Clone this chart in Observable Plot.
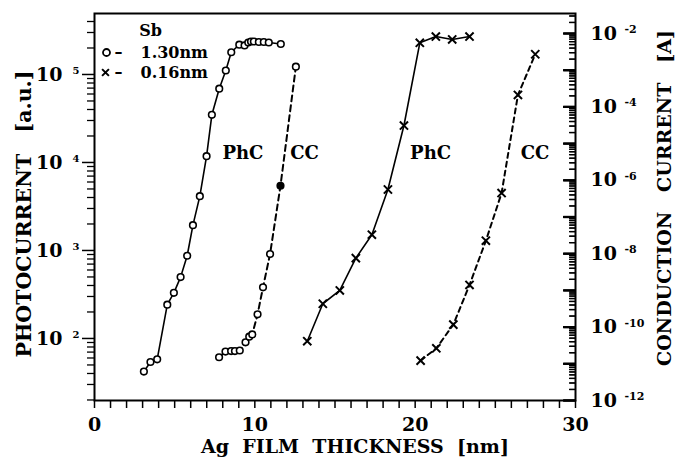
<!DOCTYPE html>
<html><head><meta charset="utf-8">
<script src="https://cdn.jsdelivr.net/npm/d3@7"></script>
<script src="https://cdn.jsdelivr.net/npm/@observablehq/plot@0.6"></script>
<style>
body{margin:0;background:#fff;}
svg text{white-space:pre;}
</style></head><body><div id="chart"></div>
<script>
// ---- data ----
// Photocurrent, Sb 1.30 nm (open circles, solid) – left axis [a.u.]
const phc130X = [3.08, 3.49, 3.91, 4.54, 4.95, 5.37, 5.78, 6.14, 6.57, 6.99, 7.32, 7.78, 8.19, 8.53, 9.03, 9.36, 9.59, 9.76, 9.94, 10.25, 10.56, 10.87, 11.62];
const phc130Y = [42, 54, 58, 242, 330, 498, 871, 1940, 4140, 11800, 34800, 68900, 111000, 179000, 218000, 214000, 231000, 237000, 237000, 234000, 234000, 231000, 222000];
// Conduction current, Sb 1.30 nm (circles, dashed) – right axis [A]
const cc130X = [7.77, 8.17, 8.52, 8.76, 9.06, 9.42, 9.65, 9.84, 10.17, 10.51, 10.95, 11.60, 12.56];
const cc130Y = [1.51e-11, 2.15e-11, 2.22e-11, 2.22e-11, 2.30e-11, 3.85e-11, 5.5e-11, 6.3e-11, 2.23e-10, 1.21e-9, 9.8e-9, 7.1e-7, 1.25e-3];
const cc130Filled = [false, false, false, false, false, false, false, false, false, false, false, true, false];
// Photocurrent, Sb 0.16 nm (crosses, solid) – left axis
const phc016X = [13.27, 14.24, 15.30, 16.30, 17.30, 18.30, 19.30, 20.29, 21.29, 22.31, 23.39];
const phc016Y = [93, 248, 351, 818, 1510, 4930, 26300, 229000, 270000, 250000, 270000];
// Conduction current, Sb 0.16 nm (crosses, dashed) – right axis
const cc016X = [20.34, 21.32, 22.38, 23.39, 24.41, 25.39, 26.41, 27.49];
const cc016Y = [1.22e-11, 2.65e-11, 1.17e-10, 1.41e-9, 2.26e-8, 4.49e-7, 2.12e-4, 2.72e-3];

// curve annotations
const annoText = ["PhC", "CC", "PhC", "CC"];
const annoX = [9.26, 13.1, 20.96, 27.48];
const annoY = [12600, 12600, 12900, 12900];

// axes
const xTicks = d3.range(0, 31, 1);
const xLabels = [0, 10, 20, 30];
const leftDecades = [100, 1000, 1e4, 1e5];
const rightDecadeExps = [-12, -11, -10, -9, -8, -7, -6, -5, -4, -3, -2];
const rightLabelExps = [-12, -10, -8, -6, -4, -2];
const legendTitle = "Sb";
const legendLabels = ["1.30nm", "0.16nm"];
const xTitle = "Ag  FILM  THICKNESS  [nm]";
const yLeftTitle = "PHOTOCURRENT   [a.u.]";
const yRightTitle = "CONDUCTION   CURRENT   [A]";

// ---- layout ----
const W = 676, H = 457, mT = 13, mB = 57, mL = 94, mR = 101;
const X0 = 0, X1 = 30;
const pxPerX = (W - mL - mR) / (X1 - X0);

// ---- scales ----
const L0 = 1.295, L1 = 5.693;   // left axis log10 domain
const R0 = -12, R1 = -1.455;    // right axis log10 domain
const k = (L1 - L0) / (R1 - R0);
const toLeft = v => 10 ** (L0 + (Math.log10(v) - R0) * k);

const zip = (xs, ys, f = v => v) => xs.map((x, i) => ({x, y: f(ys[i])}));
const phc130 = zip(phc130X, phc130Y);
const cc130 = zip(cc130X, cc130Y, toLeft).map((d, i) => ({...d, filled: cc130Filled[i]}));
const phc016 = zip(phc016X, phc016Y);
const cc016 = zip(cc016X, cc016Y, toLeft);
const anno = annoText.map((t, i) => ({t, x: annoX[i], y: annoY[i]}));

const leftMinor = [];
for (let e = 1; e <= 5; e++) for (let m = 2; m <= 9; m++) {
  const v = m * 10 ** e; if (v > 10 ** L0 && v < 10 ** L1) leftMinor.push(v);
}
const rightMinor = [];
for (let e = -12; e <= -2; e++) for (let m = 2; m <= 9; m++) {
  const v = m * 10 ** e; if (Math.log10(v) < R1) rightMinor.push(toLeft(v));
}
const rightMajor = rightDecadeExps.map(e => toLeft(10 ** e));
const rightLabels = rightLabelExps.map(e => ({y: toLeft(10 ** e), e: String(e)}));
const rightMajorTicks = rightMajor.map(y => ({y}));
const rightMinorTicks = rightMinor.map(y => ({y}));

const F = "DejaVu Serif";
const empty = () => "";

const chart = Plot.plot({
  width: W, height: H,
  marginTop: mT, marginBottom: mB, marginLeft: mL, marginRight: mR,
  style: {fontFamily: F, fontWeight: "bold", background: "#fff", color: "#000", overflow: "visible"},
  x: {domain: [X0, X1], axis: null, label: null},
  y: {type: "log", domain: [10 ** L0, 10 ** L1], axis: null, label: null},
  marks: [
    Plot.frame({stroke: "black", fill: "none", strokeWidth: 2}),
    // bottom ticks + labels
    Plot.axisX({anchor: "bottom", ticks: xTicks, tickSize: 8, tickFormat: empty, label: null, strokeWidth: 1.5}),
    Plot.axisX({anchor: "bottom", ticks: xLabels, tickSize: 0, tickPadding: 17, tickFormat: d => String(d), fontSize: 19, fontWeight: "bold", label: null}),
    // left ticks + labels
    Plot.axisY({anchor: "left", ticks: leftDecades, tickSize: 12, tickFormat: empty, label: null, strokeWidth: 1.5}),
    Plot.axisY({anchor: "left", ticks: leftMinor, tickSize: 7, tickFormat: empty, label: null, strokeWidth: 1.3}),
    Plot.axisY({anchor: "left", ticks: leftDecades, tickSize: 0, tickPadding: 32, tickFormat: () => "10", fontSize: 19, fontWeight: "bold", label: null}),
    Plot.axisY({anchor: "left", ticks: leftDecades, tickSize: 0, tickPadding: 15, tickFormat: d => String(Math.round(Math.log10(d))), fontSize: 10, fontWeight: "bold", dy: -4, label: null}),
    // right labels
    Plot.text(rightLabels, {y: "y", text: () => "10", frameAnchor: "right", dx: 15, textAnchor: "start", lineAnchor: "middle", fontSize: 19, fontWeight: "bold"}),
    Plot.text(rightLabels, {y: "y", text: "e", frameAnchor: "right", dx: 49, dy: -4, textAnchor: "start", lineAnchor: "middle", fontSize: 11, fontWeight: "bold"}),
    // curves
    Plot.line(phc130, {x: "x", y: "y", stroke: "black", strokeWidth: 1.6}),
    Plot.line(cc130, {x: "x", y: "y", stroke: "black", strokeWidth: 2, strokeDasharray: "6,4"}),
    Plot.line(phc016, {x: "x", y: "y", stroke: "black", strokeWidth: 1.6}),
    Plot.line(cc016, {x: "x", y: "y", stroke: "black", strokeWidth: 2, strokeDasharray: "5,4"}),
    Plot.dot(phc130, {x: "x", y: "y", r: 3.3, stroke: "black", fill: "white", strokeWidth: 1.6}),
    Plot.dot(cc130, {x: "x", y: "y", r: 3.3, stroke: "black", fill: d => d.filled ? "black" : "white", strokeWidth: 1.6}),
    Plot.dot(phc016, {x: "x", y: "y", r: 3.8, symbol: "times", stroke: "black", strokeWidth: 2}),
    Plot.dot(cc016, {x: "x", y: "y", r: 3.8, symbol: "times", stroke: "black", strokeWidth: 2}),
    // annotations
    Plot.text(anno, {x: "x", y: "y", text: "t", fontSize: 18, fontWeight: "bold", fill: "black"}),
    // legend
    Plot.text([legendTitle], {frameAnchor: "top-left", dx: 56, dy: 17, fontSize: 16, fontWeight: "bold", textAnchor: "middle", lineAnchor: "middle"}),
    Plot.dot([0], {frameAnchor: "top-left", dx: 12, dy: 39, r: 3.5, stroke: "black", strokeWidth: 1.8, fill: "white"}),
    Plot.dot([0], {frameAnchor: "top-left", dx: 11, dy: 59, r: 3.2, symbol: "times", stroke: "black", strokeWidth: 2}),
    Plot.text(["–"], {frameAnchor: "top-left", dx: 24, dy: 39, fontSize: 16, fontWeight: "bold", textAnchor: "middle", lineAnchor: "middle"}),
    Plot.text(["–"], {frameAnchor: "top-left", dx: 24, dy: 59, fontSize: 16, fontWeight: "bold", textAnchor: "middle", lineAnchor: "middle"}),
    Plot.text([legendLabels[0]], {frameAnchor: "top-left", dx: 46, dy: 39, fontSize: 16, fontWeight: "bold", textAnchor: "start", lineAnchor: "middle"}),
    Plot.text([legendLabels[1]], {frameAnchor: "top-left", dx: 46, dy: 59, fontSize: 16, fontWeight: "bold", textAnchor: "start", lineAnchor: "middle"}),
    // axis titles
    Plot.text([xTitle], {frameAnchor: "bottom", dx: 20, dy: 46, fontSize: 19, fontWeight: "bold", textAnchor: "middle", lineAnchor: "middle"}),
    Plot.text([yLeftTitle], {frameAnchor: "left", dx: -70, dy: 7, rotate: -90, fontSize: 20.5, fontWeight: "bold", textAnchor: "middle", lineAnchor: "middle"}),
    Plot.text([yRightTitle], {frameAnchor: "right", dx: 89, dy: -9, rotate: -90, fontSize: 19, fontWeight: "bold", textAnchor: "middle", lineAnchor: "middle"}),
    // right ticks pointing inward (drawn last)
    Plot.ruleY(rightMajorTicks, {y: "y", x1: X1 - 12 / pxPerX, x2: X1, stroke: "black", strokeWidth: 2.2}),
    Plot.ruleY(rightMinorTicks, {y: "y", x1: X1 - 6 / pxPerX, x2: X1, stroke: "black", strokeWidth: 1.3}),
    Plot.link(rightMajorTicks, {x1: X1 - 12 / pxPerX, x2: X1, y1: "y", y2: "y", stroke: "black", strokeWidth: 2.2}),
    Plot.link(rightMinorTicks, {x1: X1 - 6 / pxPerX, x2: X1, y1: "y", y2: "y", stroke: "black", strokeWidth: 1.3})
  ]
});
document.getElementById("chart").appendChild(chart);
</script></body></html>
